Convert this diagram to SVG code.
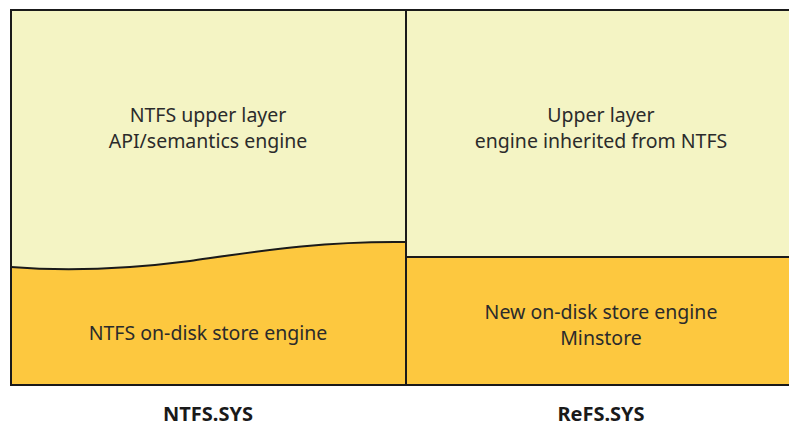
<svg xmlns="http://www.w3.org/2000/svg" width="789" height="428" viewBox="0 0 789 428">
<style>
.t{font-family:"Noto Sans","Open Sans","Liberation Sans",sans-serif;font-size:19.5px;fill:#2b2b2b;text-anchor:middle}
.b{font-family:"Noto Sans","Open Sans","Liberation Sans",sans-serif;font-size:20px;font-weight:bold;fill:#1a1a1a;text-anchor:middle}
.ln{stroke:#1a1a1a;stroke-width:2;fill:none}
</style>
<rect x="0" y="0" width="789" height="428" fill="#ffffff"/>
<g id="ntfs-upper">
<rect x="11" y="10" width="395" height="260" fill="#F4F4C4"/>
<text class="t" x="208" y="122">NTFS upper layer</text>
<text class="t" x="208" y="148">API/semantics engine</text>
</g>
<g id="ntfs-store">
<path d="M11,267 C60,271 120,270 190,261 C260,251 320,241 406,242 L406,385 L11,385 Z" fill="#FDC83F"/>
<text class="t" x="208" y="340">NTFS on-disk store engine</text>
</g>
<g id="refs-upper">
<rect x="406" y="10" width="390" height="247" fill="#F4F4C4"/>
<text class="t" x="601" y="122">Upper layer</text>
<text class="t" x="601" y="148">engine inherited from NTFS</text>
</g>
<g id="refs-store">
<rect x="406" y="257" width="390" height="128" fill="#FDC83F"/>
<text class="t" x="601" y="319">New on-disk store engine</text>
<text class="t" x="601" y="345">Minstore</text>
</g>
<g id="connectors">
<path class="ln" d="M11,267 C60,271 120,270 190,261 C260,251 320,241 406,242"/>
<line class="ln" x1="406" y1="257" x2="796" y2="257"/>
<rect class="ln" x="11" y="10" width="790" height="375"/>
<line class="ln" x1="406" y1="10" x2="406" y2="385"/>
</g>
<g id="labels">
<text class="b" x="208" y="421">NTFS.SYS</text>
<text class="b" x="601" y="421">ReFS.SYS</text>
</g>
</svg>
